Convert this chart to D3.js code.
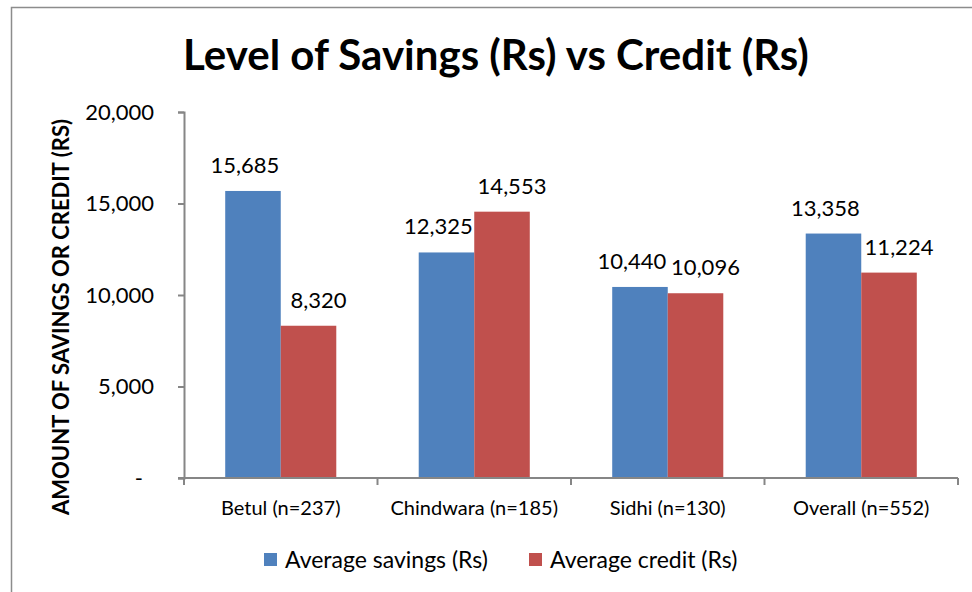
<!DOCTYPE html>
<html>
<head>
<meta charset="utf-8">
<script src="https://cdn.jsdelivr.net/npm/d3@7"></script>
<style>
  html, body { margin: 0; padding: 0; background: #fff; }
  svg { display: block; font-family: Lato, 'Open Sans', sans-serif; }
</style>
</head>
<body>
<figure id="chart" style="margin:0"></figure>
<script>
const categories = ['Betul (n=237)', 'Chindwara (n=185)', 'Sidhi (n=130)', 'Overall (n=552)'];
const seriesNames = ['Average savings (Rs)', 'Average credit (Rs)'];
const savings = [15685, 12325, 10440, 13358];
const credit = [8320, 14553, 10096, 11224];
const yTicks = [0, 5000, 10000, 15000, 20000];
const colors = ['#4F81BD', '#C0504D'];

const width = 972;
const height = 592;
const marginLeft = 184;
const marginRight = 14;
const marginTop = 112;
const marginBottom = 114;

const svg = d3.select('figure#chart')
  .append('svg')
  .attr('width', width)
  .attr('height', height);

// outer chart frame
svg.append('rect')
  .attr('x', 11.5).attr('y', 7.5)
  .attr('width', width + 10).attr('height', height + 10)
  .attr('fill', 'none')
  .attr('stroke', '#8c8c8c')
  .attr('stroke-width', 1.5);

const data = categories.map((c, i) => ({ category: c, values: [savings[i], credit[i]] }));

const x0 = d3.scaleBand()
  .domain(categories)
  .range([marginLeft, width - marginRight])
  .paddingInner(0.426)
  .paddingOuter(0.213);

const x1 = d3.scaleBand()
  .domain([0, 1])
  .range([0, x0.bandwidth()]);

const y = d3.scaleLinear()
  .domain([0, 20000])
  .range([height - marginBottom, marginTop]);

// bars
const groups = svg.append('g')
  .selectAll('g')
  .data(data)
  .join('g')
  .attr('transform', (d) => `translate(${x0(d.category)},0)`);

groups.selectAll('rect')
  .data((d) => d.values.map((v, i) => ({ v, i })))
  .join('rect')
  .attr('x', (d) => x1(d.i))
  .attr('y', (d) => y(d.v))
  .attr('width', x1.bandwidth())
  .attr('height', (d) => y(0) - y(d.v))
  .attr('fill', (d) => colors[d.i]);

// data labels: nudged outward so neighbouring labels don't collide
const labelNudge = [-8, 10];
groups.selectAll('text')
  .data((d) => d.values.map((v, i) => ({ v, i })))
  .join('text')
  .attr('x', (d) => x1(d.i) + x1.bandwidth() / 2 + labelNudge[d.i])
  .attr('y', (d) => y(d.v) - 18)
  .attr('text-anchor', 'middle')
  .attr('font-size', 22)
  .attr('fill', '#000')
  .text((d) => d3.format(',')(d.v));

// y axis
const gy = svg.append('g')
  .attr('transform', `translate(${marginLeft},0)`)
  .call(d3.axisLeft(y)
    .tickValues(yTicks)
    .tickSizeOuter(0)
    .tickSize(6)
    .tickPadding(24)
    .tickFormat((v) => (v === 0 ? '-' : d3.format(',')(v))));
gy.select('.domain').attr('stroke', '#868686').attr('stroke-width', 2);
gy.selectAll('.tick line').attr('stroke', '#868686').attr('stroke-width', 2);
gy.selectAll('.tick text').attr('font-size', 22).attr('fill', '#000').attr('font-family', 'Lato');
// accounting-style dash sits a little left of the number column
gy.selectAll('.tick text').filter((d) => d === 0).attr('dx', -11);

// x axis with ticks at category boundaries
const step = x0.step();
const boundaries = d3.range(categories.length + 1).map((i) => x0.range()[0] + i * step);
const gx = svg.append('g')
  .attr('transform', `translate(0,${y(0)})`);
gx.append('line')
  .attr('x1', marginLeft - 6).attr('x2', x0.range()[1])
  .attr('stroke', '#868686').attr('stroke-width', 2);
gx.selectAll('line.tk')
  .data(boundaries)
  .join('line')
  .attr('class', 'tk')
  .attr('x1', (d) => d).attr('x2', (d) => d)
  .attr('y1', 0).attr('y2', 7)
  .attr('stroke', '#868686').attr('stroke-width', 2);
gx.selectAll('text')
  .data(categories)
  .join('text')
  .attr('x', (d) => x0(d) + x0.bandwidth() / 2)
  .attr('y', 37)
  .attr('text-anchor', 'middle')
  .attr('font-size', 20)
  .attr('fill', '#000')
  .text((d) => d);

// title
svg.append('text')
  .attr('x', 496)
  .attr('y', 70)
  .attr('text-anchor', 'middle')
  .attr('font-size', 42)
  .attr('font-weight', 'bold')
  .text('Level of Savings (Rs) vs Credit (Rs)');

// y axis title
svg.append('text')
  .attr('transform', `translate(69,${(y(0) + y(20000)) / 2 + 22}) rotate(-90)`)
  .attr('text-anchor', 'middle')
  .attr('font-size', 22)
  .attr('font-weight', 'bold')
  .text('AMOUNT OF SAVINGS OR CREDIT (RS)');

// legend
const legendX = [264, 529];
const legend = svg.append('g')
  .selectAll('g')
  .data(seriesNames)
  .join('g')
  .attr('transform', (d, i) => `translate(${legendX[i]},553)`);
legend.append('rect')
  .attr('width', 13).attr('height', 13)
  .attr('fill', (d, i) => colors[i]);
legend.append('text')
  .attr('x', 21)
  .attr('y', 15)
  .attr('font-size', 23)
  .attr('fill', '#000')
  .text((d) => d);
</script>
</body>
</html>
